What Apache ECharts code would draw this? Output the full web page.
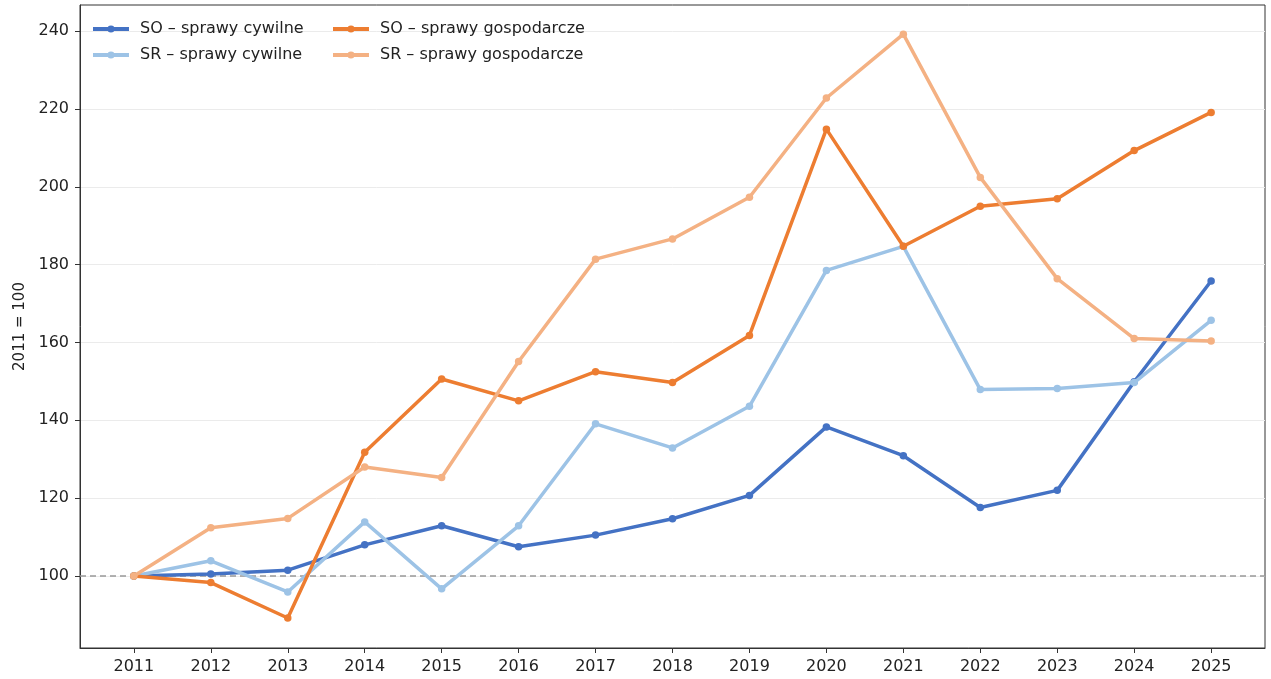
<!DOCTYPE html>
<html>
<head>
<meta charset="utf-8">
<script src="https://cdn.jsdelivr.net/npm/echarts@6/dist/echarts.min.js"></script>
<style>
  html, body { margin: 0; padding: 0; background: #fff; }
  #chart { width: 1271px; height: 679px; }
</style>
</head>
<body>
<div id="chart"></div>
<script>
var chart = echarts.init(document.getElementById('chart'));

// lata i indeksy (2011 = 100)
var years = [2011, 2012, 2013, 2014, 2015, 2016, 2017, 2018, 2019, 2020, 2021, 2022, 2023, 2024, 2025];
var soCywilne = [100, 100.5, 101.5, 108, 112.9, 107.5, 110.5, 114.7, 120.7, 138.3, 130.9, 117.6, 122, 149.9, 175.8];
var srCywilne = [100, 103.9, 95.9, 113.9, 96.7, 112.9, 139.1, 132.9, 143.6, 178.5, 184.7, 147.9, 148.2, 149.7, 165.7];
var soGosp = [100, 98.3, 89.2, 131.8, 150.6, 145, 152.5, 149.7, 161.8, 214.8, 184.7, 195, 196.9, 209.3, 219.1];
var srGosp = [100, 112.4, 114.8, 128, 125.3, 155.1, 181.4, 186.6, 197.3, 222.8, 239.2, 202.4, 176.4, 161, 160.4];
var yTicks = [100, 120, 140, 160, 180, 200, 220, 240];

var names = ['SO – sprawy cywilne', 'SR – sprawy cywilne', 'SO – sprawy gospodarcze', 'SR – sprawy gospodarcze'];
var colors = ['#4472C4', '#9DC3E6', '#ED7D31', '#F4B183'];
var values = [soCywilne, srCywilne, soGosp, srGosp];

var font = 'DejaVu Sans';

var pairs = function (arr) {
    return years.map(function (y, i) { return [y, arr[i]]; });
};

var series = values.map(function (arr, k) {
    return {
        name: names[k],
        type: 'line',
        data: pairs(arr),
        symbol: 'circle',
        symbolSize: 7.5,
        showSymbol: true,
        lineStyle: { width: 3.5, color: colors[k] },
        itemStyle: { color: colors[k] },
        z: 3 + k,
        emphasis: { disabled: true }
    };
});

// linia odniesienia 100
series[0].markLine = {
    silent: true,
    symbol: 'none',
    label: { show: false },
    lineStyle: { color: '#999', type: [6, 4], width: 1.5 },
    data: [{ yAxis: 100 }],
    z: 1
};

// ikona legendy: linia z kropką
var legendIcon = 'path://M0,5 L36,5 L36,9 L0,9 Z M18,3.5 A3.5,3.5 0 1,1 18,10.5 A3.5,3.5 0 1,1 18,3.5 Z M0,0 L0,0.01 M0,14 L0,14.01';

var legendBase = {
    orient: 'vertical',
    top: 21,
    itemWidth: 36,
    itemHeight: 14,
    itemGap: 10,
    padding: 0,
    icon: legendIcon,
    textStyle: { fontFamily: font, fontSize: 16, color: '#222', padding: [0, 0, 0, 6] }
};

option = {
    animation: false,
    backgroundColor: '#fff',
    grid: {
        left: 80, right: 6, top: 5, bottom: 31,
        show: true, borderColor: '#333', borderWidth: 1
    },
    legend: [
        Object.assign({}, legendBase, { left: 93, data: [names[0], names[1]] }),
        Object.assign({}, legendBase, { left: 333, data: [names[2], names[3]] })
    ],
    xAxis: {
        type: 'value',
        min: 2010.3,
        max: 2025.7,
        axisLine: { show: true, lineStyle: { color: '#333' } },
        axisTick: { show: true, length: 5, customValues: years, lineStyle: { color: '#333' } },
        axisLabel: {
            customValues: years,
            fontFamily: font, fontSize: 16, color: '#222', margin: 11,
            formatter: function (v) { return String(v); }
        },
        splitLine: { show: false }
    },
    yAxis: {
        type: 'value',
        min: 81.5,
        max: 246.7,
        name: '2011 = 100',
        nameLocation: 'middle',
        nameGap: 52,
        nameTextStyle: { fontFamily: font, fontSize: 15, color: '#222' },
        axisLine: { show: true, lineStyle: { color: '#333' } },
        axisTick: { show: true, length: 5, customValues: yTicks, lineStyle: { color: '#333' } },
        axisLabel: {
            customValues: yTicks,
            fontFamily: font, fontSize: 16, color: '#222', margin: 11
        },
        splitLine: { show: true, lineStyle: { color: '#ebebeb', width: 1 } }
    },
    series: series
};

chart.setOption(option);
</script>
</body>
</html>
